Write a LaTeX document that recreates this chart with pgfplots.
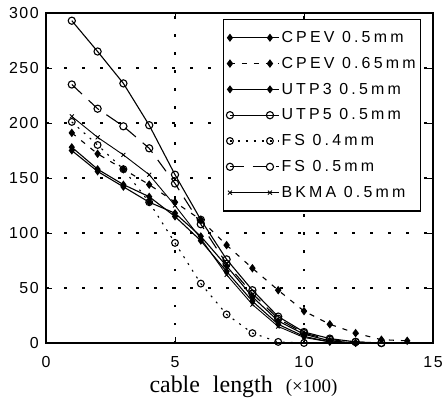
\documentclass[border=0pt]{standalone}
\usepackage{pgfplots}
\pgfplotsset{compat=1.18}
\usepackage{fontspec}
\setmainfont{Liberation Sans}
\newfontfamily\seriffont{Liberation Serif}
\newfontfamily\legfont[LetterSpace=20]{Liberation Sans}
\newfontfamily\tickfont[LetterSpace=10]{Liberation Sans}

\begin{document}
\begin{tikzpicture}[x=1bp,y=1bp]
\begin{axis}[
    scale only axis,
    width=387bp, height=330bp,
    xmin=0, xmax=15, ymin=0, ymax=300,
    xtick={0,5,10,15}, ytick={0,50,...,300},
    tick align=inside, tick style={black, line width=0.9bp},
    major tick length=6bp,
    axis line style={line width=1.5bp},
    grid=major,
    major grid style={black, line width=1.5bp, dash pattern=on 2.5bp off 15.5bp},
    /pgf/number format/assume math mode=true,
    ticklabel style={font=\tickfont\fontsize{16}{16}\selectfont, inner sep=0pt},
    xticklabel style={anchor=base, yshift=-24bp},
    yticklabel style={anchor=east, xshift=-7bp},
    xlabel={\seriffont\fontsize{24}{24}\selectfont cable\hspace{13bp}length\hspace{13bp}{\fontsize{19}{19}\selectfont(×100)}},
    xlabel style={at={(axis description cs:0.5,0)}, anchor=base, yshift=-49bp, xshift=4bp},
    clip=false,
    legend style={at={(0.457,0.982)}, anchor=north west,
        draw=black, line width=1.4bp,
        font=\legfont\fontsize{16}{16}\selectfont,
        row sep=9.2bp, inner xsep=3bp, inner ysep=10bp,
        cells={anchor=west, line width=1bp}},
    legend cell align=left,
    legend image code/.code={\draw[mark repeat=2,mark phase=1,#1]
        plot coordinates {(0bp,0bp)(20bp,0bp)(40bp,0bp)};
        \path (0bp,0bp) -- (49bp,0bp);},
    every axis plot/.append style={black, line width=1.1bp},
]
% CPEV 0.5mm
\addplot[solid, mark=diamond*, mark size=3.2bp] coordinates {
(1,178) (2,158) (3,144) (4,133) (5,115) (6,93) (7,65) (8,38) (9,17) (10,6) (11,1) (12,0)};
\addlegendentry{CPEV 0.5mm}
% CPEV 0.65mm
\addplot[dash pattern=on 5bp off 7bp, mark=diamond*, mark size=3.4bp, mark options={solid}] coordinates {
(1,191) (2,172) (3,158) (4,144) (5,128) (6,112) (7,89) (8,68) (9,48) (10,29) (11,17) (12,9) (13,3) (14,2)};
\addlegendentry{CPEV 0.65mm}
% UTP3 0.5mm
\addplot[solid, mark=diamond*, mark size=3.2bp] coordinates {
(1,175) (2,156) (3,142) (4,128) (5,118) (6,97) (7,70) (8,42) (9,20) (10,8) (11,2) (12,0)};
\addlegendentry{UTP3 0.5mm}
% UTP5 0.5mm
\addplot[solid, mark=o, mark size=3.6bp, mark options={fill=white}] coordinates {
(1,293) (2,265) (3,236) (4,198) (5,153) (6,112) (7,76) (8,48) (9,24) (10,10) (11,4) (12,1) (13,0)};
\addlegendentry{UTP5 0.5mm}
% FS 0.4mm
\addplot[dash pattern=on 2bp off 6bp, mark=o, mark size=3.4bp, mark options={solid, fill=white}] coordinates {
(1,201) (2,180) (3,158) (4,128) (5,91) (6,54) (7,26) (8,9) (9,1) (10,0)};
\addlegendentry{FS 0.4mm}
% FS 0.5mm
\addplot[dash pattern=on 14bp off 9bp, mark=o, mark size=3.6bp, mark options={solid, fill=white}] coordinates {
(1,235) (2,213) (3,197) (4,177) (5,145) (6,108) (7,72) (8,45) (9,22) (10,9) (11,3) (12,1) (13,0)};
\addlegendentry{FS 0.5mm}
% BKMA 0.5mm
\addplot[solid, line width=0.9bp, mark=x, mark size=2.8bp] coordinates {
(1,206) (2,187) (3,171) (4,153) (5,125) (6,95) (7,62) (8,35) (9,15) (10,5) (11,1) (12,0)};
\addlegendentry{BKMA 0.5mm}
\end{axis}
\path (current axis.south west) ++(-46bp,-58bp);
\path (current axis.north east) ++(11bp,13bp);
\end{tikzpicture}
\end{document}
